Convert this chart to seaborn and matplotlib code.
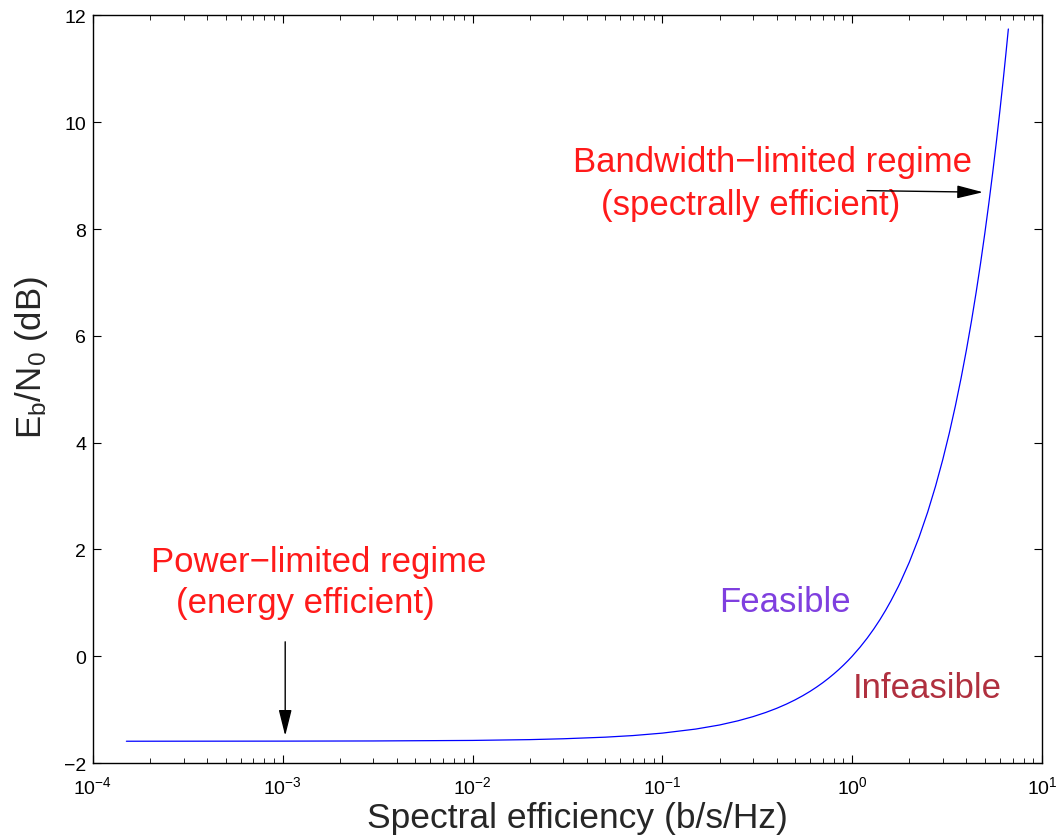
import numpy as np
import pandas as pd
import matplotlib
matplotlib.use("Agg")
import matplotlib.pyplot as plt
import seaborn as sns

# Spectral efficiency (b/s/Hz) and Eb/N0 (dB)
spectral_eff = [1.5e-4, 1e-3, 3e-3, 1e-2, 2e-2, 3e-2, 5e-2, 0.07, 0.1, 0.15, 0.2,
                0.25, 0.3, 0.35, 0.4, 0.45, 0.5, 0.55, 0.6, 0.65, 0.7, 0.75, 0.8,
                0.85, 0.9, 0.95, 1.0, 1.1, 1.2, 1.3, 1.4, 1.5, 1.6, 1.75, 1.8,
                2.0, 2.25, 2.5, 2.75, 3.0, 3.25, 3.5, 3.75, 4.0, 4.25, 4.5, 4.75,
                5.0, 5.25, 5.5, 5.75, 6.0, 6.25, 6.45, 6.65]
ebn0_db = [-1.592, -1.590, -1.587, -1.577, -1.562, -1.546, -1.516, -1.486, -1.440,
           -1.364, -1.288, -1.210, -1.132, -1.054, -0.976, -0.897, -0.818, -0.738,
           -0.658, -0.577, -0.496, -0.414, -0.332, -0.250, -0.167, -0.084, 0.000,
           0.169, 0.339, 0.511, 0.684, 0.860, 1.037, 1.305, 1.396, 1.761, 2.226,
           2.701, 3.186, 3.680, 4.182, 4.694, 5.213, 5.740, 6.275, 6.818, 7.367,
           7.924, 8.487, 9.056, 9.631, 10.212, 10.798, 11.271, 11.747]

y_ticks = [-2, 0, 2, 4, 6, 8, 10, 12]

df = pd.DataFrame({"eta": spectral_eff, "ebn0": ebn0_db})

sns.set_style("ticks")
plt.rcParams["font.family"] = ["Liberation Sans", "DejaVu Sans"]
plt.rcParams["mathtext.fontset"] = "custom"
plt.rcParams["mathtext.rm"] = "Liberation Sans"
plt.rcParams["mathtext.it"] = "Liberation Sans"
plt.rcParams["mathtext.bf"] = "Liberation Sans:bold"
plt.rcParams["mathtext.sf"] = "Liberation Sans"

fig = plt.figure(figsize=(10.6, 8.37), dpi=100)
ax = fig.add_axes([0.0877, 0.0872, 0.8953, 0.8931])

sns.lineplot(data=df, x="eta", y="ebn0", ax=ax, color="#0000ff", linewidth=0.9,
             estimator=None, sort=False)

ax.set_xscale("log")
ax.set_xlim(1e-4, 10)
ax.set_ylim(-2, 12)
ax.set_yticks(y_ticks)

ax.tick_params(axis="both", which="both", direction="in", top=True, right=True,
               labelsize=14, colors="black")
ax.tick_params(axis="both", which="major", length=6, width=0.8)
ax.tick_params(axis="x", which="both", pad=9)
ax.tick_params(axis="y", which="major", pad=5)
ax.tick_params(axis="x", which="minor", length=3.5, width=0.6)
for s in ax.spines.values():
    s.set_linewidth(1.0)
    s.set_color("black")

ax.set_xlabel("Spectral efficiency (b/s/Hz)", fontsize=25.5, va="baseline")
ax.xaxis.set_label_coords(0.5105, -0.0856)
ax.set_ylabel(r"$\mathregular{E_b/N_0}$ (dB)", fontsize=25)
ax.yaxis.set_label_coords(-0.045, 0.543)

red = "#ff1a1a"
fs = 25
ax.text(1.55e-3, 1.60, "Power\u2212limited regime", color=red, fontsize=fs,
        ha="center", va="baseline")
ax.text(1.31e-3, 0.83, "(energy efficient)", color=red, fontsize=fs,
        ha="center", va="baseline")
ax.text(0.380, 9.09, "Bandwidth\u2212limited regime", color=red, fontsize=fs,
        ha="center", va="baseline")
ax.text(0.293, 8.28, "(spectrally efficient)", color=red, fontsize=fs,
        ha="center", va="baseline")
ax.text(0.443, 0.85, "Feasible", color="#7f3fdf", fontsize=fs, ha="center", va="baseline")
ax.text(2.48, -0.76, "Infeasible", color="#b0303f", fontsize=fs, ha="center", va="baseline")

arrow = dict(arrowstyle="-|>,head_length=0.8,head_width=0.2", color="black", lw=1.0,
             mutation_scale=20, shrinkA=0, shrinkB=0)
ax.annotate("", xy=(1.03e-3, -1.49), xytext=(1.03e-3, 0.27), arrowprops=arrow)
ax.annotate("", xy=(4.89, 8.69), xytext=(1.197, 8.72), arrowprops=arrow)

fig.savefig("out.png", dpi=100, facecolor="white")
